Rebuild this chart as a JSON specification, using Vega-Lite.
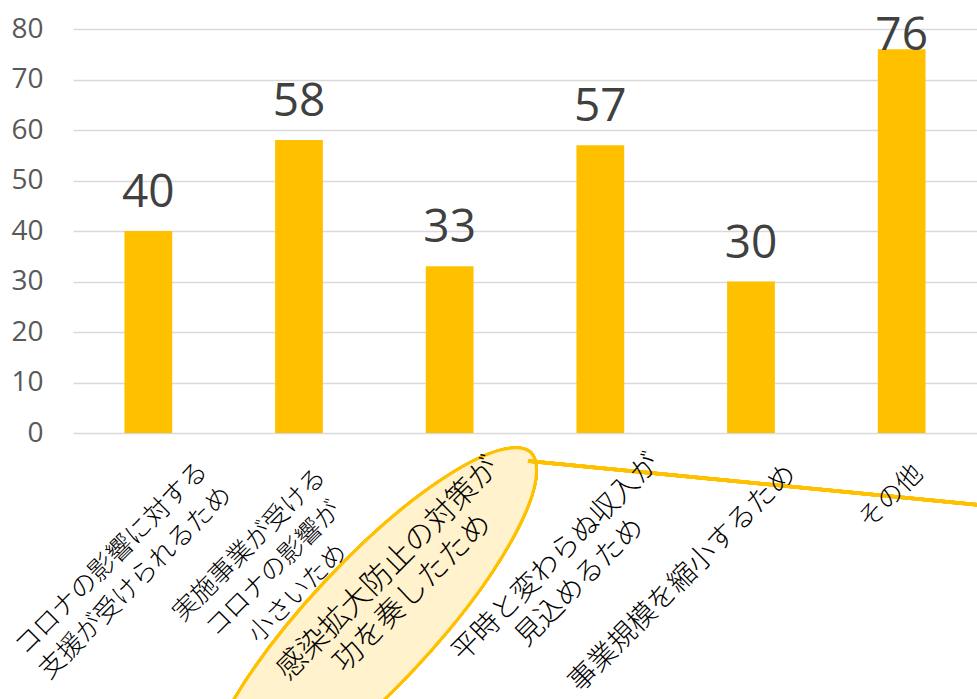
{
  "$schema": "https://vega.github.io/schema/vega-lite/v6.json",
  "width": 904,
  "height": 404,
  "autosize": "none",
  "padding": {"left": 73, "top": 29, "right": 0, "bottom": 266},
  "background": "white",
  "config": {"view": {"stroke": null}},
  "data": {"values": [
    {"reason": "コロナの影響に対する\n支援が受けられるため", "count": 40},
    {"reason": "実施事業が受ける\nコロナの影響が\n小さいため", "count": 58},
    {"reason": "感染拡大防止の対策が\n功を奏したため", "count": 33},
    {"reason": "平時と変わらぬ収入が\n見込めるため", "count": 57},
    {"reason": "事業規模を縮小するため", "count": 30},
    {"reason": "その他", "count": 76}
  ]},
  "resolve": {"scale": {"x": "independent"}},
  "layer": [
    {
      "mark": {"type": "point", "shape": "M -0.682 0.731 A 1 0.271 -47 0 1 0.682 -0.731 A 1 0.271 -47 0 1 -0.682 0.731 Z", "size": 222784, "filled": true, "fill": "#fff2cc", "opacity": 1, "fillOpacity": 1, "stroke": "#ffc000", "strokeOpacity": 1, "strokeWidth": 3, "clip": false},
      "encoding": {
        "x": {"datum": 1.971, "type": "quantitative", "scale": {"domain": [0, 6], "nice": false, "zero": false}, "axis": null},
        "y": {"datum": -38, "type": "quantitative", "scale": {"domain": [0, 80], "nice": false}}
      }
    },
    {
      "layer": [
        {
          "mark": {"type": "bar", "color": "#ffc000"},
          "encoding": {
            "x": {"field": "reason", "type": "nominal", "sort": null,
              "scale": {"paddingInner": 0.683, "paddingOuter": 0.3415},
              "axis": {"title": null, "domain": false, "ticks": false, "tickSize": 0, "grid": false, "zindex": 1,
                "labelExpr": "split(datum.label, '\\n')",
                "labelAngle": -45, "labelAlign": "center", "labelBaseline": "top",
                "labelOffset": {"condition": [
                  {"test": "indexof(datum.value, '支援') >= 0", "value": -46},
                  {"test": "indexof(datum.value, '実施') >= 0", "value": -58},
                  {"test": "indexof(datum.value, '感染') >= 0", "value": -72},
                  {"test": "indexof(datum.value, '平時') >= 0", "value": -54},
                  {"test": "indexof(datum.value, '縮小') >= 0", "value": -78}
                ], "value": -20},
                "labelPadding": {"condition": [
                  {"test": "indexof(datum.value, '支援') >= 0", "value": 116},
                  {"test": "indexof(datum.value, '実施') >= 0", "value": 103},
                  {"test": "indexof(datum.value, '感染') >= 0", "value": 125},
                  {"test": "indexof(datum.value, '平時') >= 0", "value": 115},
                  {"test": "indexof(datum.value, '縮小') >= 0", "value": 135}
                ], "value": 54},
                "labelFontSize": {"condition": [
                  {"test": "indexof(datum.value, '支援') >= 0", "value": 26},
                  {"test": "indexof(datum.value, '実施') >= 0", "value": 25.5},
                  {"test": "indexof(datum.value, '感染') >= 0", "value": 30},
                  {"test": "indexof(datum.value, '平時') >= 0", "value": 28},
                  {"test": "indexof(datum.value, '縮小') >= 0", "value": 28}
                ], "value": 26},
                "labelFont": "Noto Sans CJK JP Light, Noto Sans CJK JP DemiLight, Noto Sans CJK JP", "labelFontWeight": 300, "labelLineHeight": 34,
                "labelColor": "#000000", "labelLimit": 0, "labelOverlap": false, "labelBound": false}},
            "y": {"field": "count", "type": "quantitative",
              "scale": {"domain": [0, 80], "nice": false},
              "axis": {"title": null, "domain": false, "ticks": false, "tickSize": 0, "zindex": 0,
                "values": [0, 10, 20, 30, 40, 50, 60, 70, 80],
                "grid": true, "gridColor": "#d9d9d9", "gridWidth": 1.5,
                "labelFont": "Open Sans", "labelFontSize": 28, "labelColor": "#595959", "labelPadding": 30}}
          }
        },
        {
          "transform": [{"filter": "datum.count <= 70"}],
          "mark": {"type": "text", "font": "Open Sans", "fontSize": 46, "color": "#404040", "baseline": "alphabetic", "dy": -24},
          "encoding": {
            "x": {"field": "reason", "type": "nominal", "sort": null},
            "y": {"field": "count", "type": "quantitative"},
            "text": {"field": "count", "type": "quantitative"}
          }
        },
        {
          "transform": [{"filter": "datum.count > 70"}],
          "mark": {"type": "text", "font": "Open Sans", "fontSize": 46, "color": "#404040", "baseline": "alphabetic", "dy": 1},
          "encoding": {
            "x": {"field": "reason", "type": "nominal", "sort": null},
            "y": {"field": "count", "type": "quantitative"},
            "text": {"field": "count", "type": "quantitative"}
          }
        }
      ]
    },
    {
      "mark": {"type": "rule", "color": "#ffc000", "strokeWidth": 3.5, "clip": false},
      "encoding": {
        "x": {"datum": 3.02, "type": "quantitative", "scale": {"domain": [0, 6], "nice": false, "zero": false}, "axis": null},
        "x2": {"datum": 6.05},
        "y": {"datum": -5.54, "type": "quantitative"},
        "y2": {"datum": -14.36}
      }
    }
  ]
}
